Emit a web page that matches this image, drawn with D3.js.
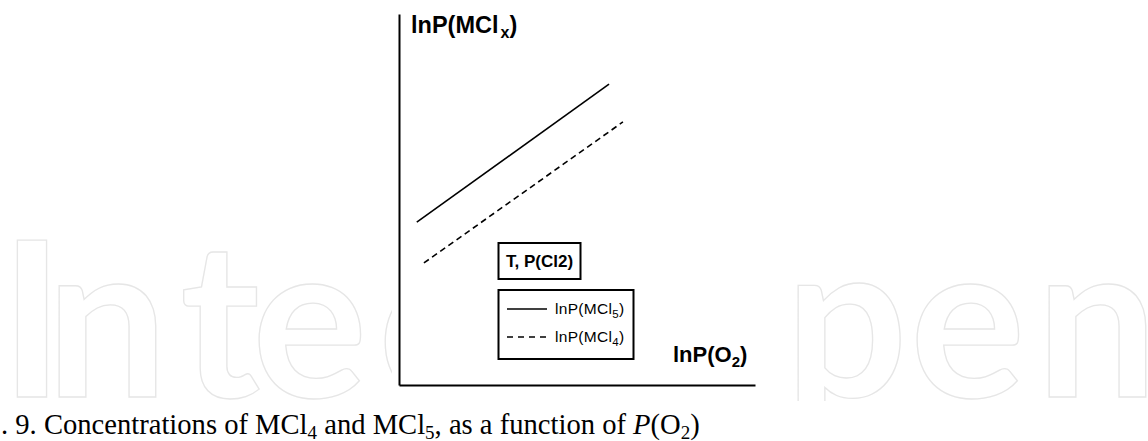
<!DOCTYPE html>
<html>
<head>
<meta charset="utf-8">
<script src="https://cdn.jsdelivr.net/npm/d3@7"></script>
<style>
  html, body { margin: 0; padding: 0; background: #fff; }
  svg { display: block; }
</style>
</head>
<body>
<svg id="chart" width="1148" height="441"></svg>
<script>
// Schematic values (arbitrary log units, no ticks on either axis)
const seriesNames = ["lnP(MCl5)", "lnP(MCl4)"];
const lnPO2_MCl5 = [0.5, 5.9];
const lnPMCl5 = [4.39, 8.11];
const lnPO2_MCl4 = [0.7, 6.29];
const lnPMCl4 = [3.29, 7.09];
const xDomain = [0, 10];
const yDomain = [0, 10];

const W = 1148, H = 441;
const svg = d3.select("#chart");

svg.append("rect").attr("width", W).attr("height", H).attr("fill", "#fff");

// Publisher mark behind the figure, clipped above the caption strip
svg.append("clipPath").attr("id", "markClip")
  .append("rect").attr("x", 0).attr("y", 0).attr("width", W).attr("height", 401);
const mark = svg.append("g")
  .attr("clip-path", "url(#markClip)")
  .attr("font-family", "Lato, 'Open Sans', sans-serif")
  .attr("font-weight", 700)
  .attr("font-size", 216)
  .attr("fill", "#fff")
  .attr("stroke", "#e6e6e6")
  .attr("stroke-width", 1.3);
mark.append("text").attr("x", "0 46 180 252 378 480").attr("y", 397).text("Intech");
mark.append("text").attr("x", "600 785 910 1036").attr("y", 397).text("Open");

// Figure panel and caption strip
svg.append("rect").attr("x", 392).attr("y", 0).attr("width", 376).attr("height", 401).attr("fill", "#fff");
svg.append("rect").attr("x", 0).attr("y", 401).attr("width", W).attr("height", H - 401).attr("fill", "#fff");

const x = d3.scaleLinear().domain(xDomain).range([399, 755]);
const y = d3.scaleLinear().domain(yDomain).range([385, 14]);

const axes = svg.append("g");
axes.append("g").attr("transform", `translate(${x(0)},0)`)
  .call(d3.axisLeft(y).tickValues([]).tickSizeOuter(0))
  .call(g => g.select(".domain").attr("stroke", "#000").attr("stroke-width", 2));
axes.append("g").attr("transform", `translate(0,${y(0)})`)
  .call(d3.axisBottom(x).tickValues([]).tickSizeOuter(0))
  .call(g => g.select(".domain").attr("stroke", "#000").attr("stroke-width", 2));

const line = d3.line().x(d => x(d[0])).y(d => y(d[1]));
const s5 = d3.zip(lnPO2_MCl5, lnPMCl5);
const s4 = d3.zip(lnPO2_MCl4, lnPMCl4);

svg.append("path").datum(s5).attr("d", line)
  .attr("fill", "none").attr("stroke", "#000").attr("stroke-width", 1.6);
svg.append("path").datum(s4).attr("d", line)
  .attr("fill", "none").attr("stroke", "#000").attr("stroke-width", 1.6)
  .attr("stroke-dasharray", "6,4");

// Axis titles
const yt = svg.append("text").attr("x", 411).attr("y", 33)
  .attr("font-family", "'Liberation Sans', Arial, sans-serif")
  .attr("font-weight", 700).attr("font-size", 23.5).attr("fill", "#000");
yt.append("tspan").text("lnP(MCl");
yt.append("tspan").attr("font-size", 16).attr("dx", 2).attr("dy", 5).text("x");
yt.append("tspan").attr("dy", -5).text(")");

const xt = svg.append("text").attr("x", 673).attr("y", 362)
  .attr("font-family", "'Liberation Sans', Arial, sans-serif")
  .attr("font-weight", 700).attr("font-size", 22).attr("fill", "#000");
xt.append("tspan").text("lnP(O");
xt.append("tspan").attr("font-size", 15).attr("dy", 5).text("2");
xt.append("tspan").attr("dy", -5).text(")");

// Condition box
svg.append("rect").attr("x", 498.5).attr("y", 243).attr("width", 82).attr("height", 36)
  .attr("fill", "#fff").attr("stroke", "#000").attr("stroke-width", 2);
svg.append("text").attr("x", 506).attr("y", 267)
  .attr("font-family", "'Liberation Sans', Arial, sans-serif")
  .attr("font-weight", 700).attr("font-size", 17).attr("fill", "#000")
  .text("T, P(Cl2)");

// Legend
const lg = svg.append("g");
lg.append("rect").attr("x", 498.5).attr("y", 290).attr("width", 135).attr("height", 69)
  .attr("fill", "#fff").attr("stroke", "#000").attr("stroke-width", 2);
const legendRows = [
  { name: seriesNames[0], base: "lnP(MCl", sub: "5", dash: null, ly: 309 },
  { name: seriesNames[1], base: "lnP(MCl", sub: "4", dash: "6,5", ly: 337 }
];
legendRows.forEach(r => {
  lg.append("line").attr("x1", 507).attr("x2", 547).attr("y1", r.ly).attr("y2", r.ly)
    .attr("stroke", "#000").attr("stroke-width", 1.6)
    .attr("stroke-dasharray", r.dash);
  const t = lg.append("text").attr("x", 555).attr("y", r.ly + 5)
    .attr("font-family", "'Liberation Sans', Arial, sans-serif")
    .attr("font-size", 15.5).attr("letter-spacing", 0.3).attr("fill", "#000");
  t.append("tspan").text(r.base);
  t.append("tspan").attr("font-size", 11.5).attr("dy", 4).text(r.sub);
  t.append("tspan").attr("dy", -4).text(")");
});

// Caption
const cap = svg.append("text").attr("x", 1).attr("y", 434)
  .attr("font-family", "'Liberation Serif', 'DejaVu Serif', serif")
  .attr("font-size", 28.6).attr("fill", "#000");
cap.append("tspan").text(". 9. Concentrations of MCl");
cap.append("tspan").attr("font-size", 19).attr("dy", 5).text("4");
cap.append("tspan").attr("dy", -5).text(" and MCl");
cap.append("tspan").attr("font-size", 19).attr("dy", 5).text("5");
cap.append("tspan").attr("dy", -5).text(", as a function of ");
cap.append("tspan").attr("font-style", "italic").text("P");
cap.append("tspan").text("(O");
cap.append("tspan").attr("font-size", 19).attr("dy", 5).text("2");
cap.append("tspan").attr("dy", -5).text(")");
</script>
</body>
</html>
